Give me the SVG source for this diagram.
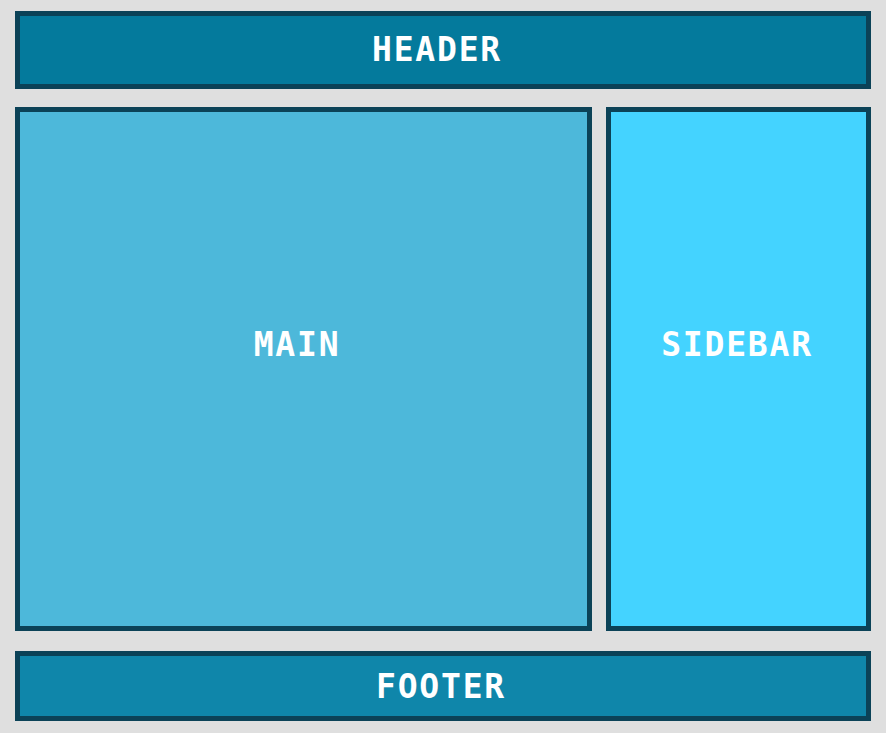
<svg xmlns="http://www.w3.org/2000/svg" width="886" height="733" viewBox="0 0 886 733">
<style>
.box{stroke:#0b4257;stroke-width:5}
.lbl{font-family:"DejaVu Sans Mono","Liberation Mono",monospace;font-weight:bold;font-size:33px;letter-spacing:1.8px;fill:#ffffff;text-anchor:middle}
</style>
<rect x="0" y="0" width="886" height="733" fill="#dfdfdf"/>
<g id="header">
<rect class="box" x="17.5" y="13.5" width="851" height="73" fill="#047a9c"/>
<text class="lbl" x="437" y="61">HEADER</text>
</g>
<g id="main">
<rect class="box" x="17.5" y="109.5" width="572" height="519" fill="#4db8da"/>
<text class="lbl" x="297" y="356">MAIN</text>
</g>
<g id="sidebar">
<rect class="box" x="608.5" y="109.5" width="260" height="519" fill="#44d3ff"/>
<text class="lbl" x="737" y="356">SIDEBAR</text>
</g>
<g id="footer">
<rect class="box" x="17.5" y="653.5" width="851" height="65" fill="#0f86aa"/>
<text class="lbl" x="441" y="698">FOOTER</text>
</g>
<g id="connectors"/>
</svg>
